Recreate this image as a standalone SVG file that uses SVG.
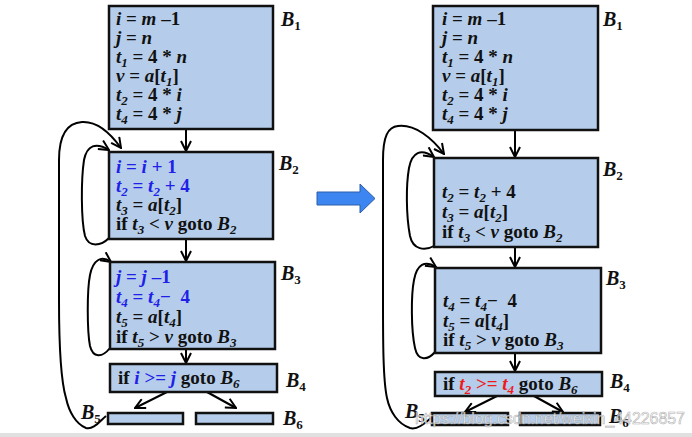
<svg xmlns="http://www.w3.org/2000/svg" width="692" height="437" viewBox="0 0 692 437">
<defs>
<marker id="ah" viewBox="0 0 12 12" refX="11" refY="6" markerWidth="12" markerHeight="12" markerUnits="userSpaceOnUse" orient="auto">
<path d="M1,1 L11,6 L1,11" fill="none" stroke="#000" stroke-width="2"/>
</marker>
<style>
.box{fill:#b5cdea;stroke:#111;stroke-width:2.5}
.c{font-family:"Liberation Serif","Times New Roman",serif;font-weight:bold;font-size:19px;fill:#111}
.v{font-style:italic}
.s{font-size:13px;font-style:italic}
.b{fill:#1f1fe8}
.r{fill:#ee1a1a}
.lb{font-family:"Liberation Serif","Times New Roman",serif;font-weight:bold;font-style:italic;font-size:20px;fill:#111}
.ls{font-size:13px;font-style:normal}
.e{fill:none;stroke:#000;stroke-width:2;marker-end:url(#ah)}
.ln{fill:none;stroke:#000;stroke-width:2}
</style>
</defs>
<rect x="0" y="0" width="692" height="437" fill="#fff"/>
<rect x="0" y="433" width="692" height="4" fill="#e0e0e0"/>

<g id="connectors">
<!-- left -->
<path class="e" d="M186,129 L186,151"/>
<path class="e" d="M186,239 L186,261"/>
<path class="e" d="M186,349 L186,363"/>
<path class="e" d="M167,392 L135,408"/>
<path class="e" d="M207,392 L236,408"/>
<path class="e" d="M106,416 C99,422 93,430 86,428 C76,424 69,412 66,398 C60,378 59,340 59,300 L59,160 C59,136 66,123 82,122 C98,121 111,134 121,148"/>
<path class="e" d="M109,238 C101,246 89,248 85,236 C81,220 81,180 84,160 C87,145 96,142 109,150"/>
<path class="e" d="M110,348 C102,358 93,358 90,346 C87,330 87,290 90,275 C93,260 101,255 111,262"/>
<!-- right -->
<path class="e" d="M515,130 L515,157"/>
<path class="e" d="M515,247 L515,267"/>
<path class="e" d="M515,353 L515,371"/>
<path class="e" d="M497,396 L465,412"/>
<path class="e" d="M534,396 L563,412"/>
<path class="e" d="M431,418 C424,424 417,430 410,428 C398,424 390,412 387,398 C383,380 383,340 383,300 L383,160 C383,136 388,127 398,126 C415,124 432,138 444,154"/>
<path class="e" d="M434,246 C425,251 413,250 410,236 C406,215 406,185 409,168 C412,152 421,148 434,157"/>
<path class="e" d="M435,352 C428,360 418,362 415,348 C411,330 411,295 414,280 C417,264 425,260 436,267"/>
</g>

<g id="transform-arrow">
<polygon points="317,192 360,192 360,184 375,198.5 360,213 360,205 317,205" fill="#3d85f0" stroke="#2d5fa8" stroke-width="1"/>
</g>

<!-- LEFT -->
<g id="L-B1">
<rect class="box" x="109" y="6" width="164" height="123"/>
<text class="c" x="116" y="25"><tspan class="v">i</tspan> = <tspan class="v">m</tspan> –1</text>
<text class="c" x="116" y="44"><tspan class="v">j</tspan> = <tspan class="v">n</tspan></text>
<text class="c" x="116" y="63"><tspan class="v">t</tspan><tspan class="s" baseline-shift="-4">1</tspan> = 4 * <tspan class="v">n</tspan></text>
<text class="c" x="116" y="82"><tspan class="v">v</tspan> = <tspan class="v">a</tspan>[<tspan class="v">t</tspan><tspan class="s" baseline-shift="-4">1</tspan>]</text>
<text class="c" x="116" y="101"><tspan class="v">t</tspan><tspan class="s" baseline-shift="-4">2</tspan> = 4 * <tspan class="v">i</tspan></text>
<text class="c" x="116" y="120"><tspan class="v">t</tspan><tspan class="s" baseline-shift="-4">4</tspan> = 4 * <tspan class="v">j</tspan></text>
<text class="lb" x="281" y="26">B<tspan class="ls" baseline-shift="-4">1</tspan></text>
</g>

<g id="L-B2">
<rect class="box" x="109" y="152" width="164" height="87"/>
<text class="c b" x="116" y="173"><tspan class="v">i</tspan> = <tspan class="v">i</tspan> + 1</text>
<text class="c b" x="116" y="192"><tspan class="v">t</tspan><tspan class="s" baseline-shift="-4">2</tspan> = <tspan class="v">t</tspan><tspan class="s" baseline-shift="-4">2</tspan> + 4</text>
<text class="c" x="116" y="211"><tspan class="v">t</tspan><tspan class="s" baseline-shift="-4">3</tspan> = <tspan class="v">a</tspan>[<tspan class="v">t</tspan><tspan class="s" baseline-shift="-4">2</tspan>]</text>
<text class="c" x="116" y="230">if <tspan class="v">t</tspan><tspan class="s" baseline-shift="-4">3</tspan> &lt; <tspan class="v">v</tspan> goto <tspan class="v">B</tspan><tspan class="s" baseline-shift="-4">2</tspan></text>
<text class="lb" x="279" y="170">B<tspan class="ls" baseline-shift="-4">2</tspan></text>
</g>

<g id="L-B3">
<rect class="box" x="110" y="262" width="165" height="87"/>
<text class="c b" x="116" y="283"><tspan class="v">j</tspan> = <tspan class="v">j</tspan> –1</text>
<text class="c b" x="116" y="303"><tspan class="v">t</tspan><tspan class="s" baseline-shift="-4">4</tspan> = <tspan class="v">t</tspan><tspan class="s" baseline-shift="-4">4</tspan>− <tspan dx="5">4</tspan></text>
<text class="c" x="116" y="323"><tspan class="v">t</tspan><tspan class="s" baseline-shift="-4">5</tspan> = <tspan class="v">a</tspan>[<tspan class="v">t</tspan><tspan class="s" baseline-shift="-4">4</tspan>]</text>
<text class="c" x="116" y="343">if <tspan class="v">t</tspan><tspan class="s" baseline-shift="-4">5</tspan> &gt; <tspan class="v">v</tspan> goto <tspan class="v">B</tspan><tspan class="s" baseline-shift="-4">3</tspan></text>
<text class="lb" x="281" y="280">B<tspan class="ls" baseline-shift="-4">3</tspan></text>
</g>

<g id="L-B4">
<rect class="box" x="110" y="364" width="167" height="28"/>
<text class="c" x="118" y="384">if <tspan class="b v">i</tspan><tspan class="b"> &gt;= </tspan><tspan class="b v">j</tspan> goto <tspan class="v">B</tspan><tspan class="s" baseline-shift="-4">6</tspan></text>
<text class="lb" x="286" y="387">B<tspan class="ls" baseline-shift="-4">4</tspan></text>
</g>

<g id="L-B5">
<rect class="box" x="108" y="413" width="75" height="11"/>
<text class="lb" x="81" y="419">B<tspan class="ls" baseline-shift="-4">5</tspan></text>
</g>

<g id="L-B6">
<rect class="box" x="196" y="413" width="77" height="11"/>
<text class="lb" x="283" y="425">B<tspan class="ls" baseline-shift="-4">6</tspan></text>
</g>

<!-- RIGHT -->
<g id="R-B1">
<rect class="box" x="433" y="6" width="165" height="124"/>
<text class="c" x="442" y="25"><tspan class="v">i</tspan> = <tspan class="v">m</tspan> –1</text>
<text class="c" x="442" y="44"><tspan class="v">j</tspan> = <tspan class="v">n</tspan></text>
<text class="c" x="442" y="63"><tspan class="v">t</tspan><tspan class="s" baseline-shift="-4">1</tspan> = 4 * <tspan class="v">n</tspan></text>
<text class="c" x="442" y="82"><tspan class="v">v</tspan> = <tspan class="v">a</tspan>[<tspan class="v">t</tspan><tspan class="s" baseline-shift="-4">1</tspan>]</text>
<text class="c" x="442" y="101"><tspan class="v">t</tspan><tspan class="s" baseline-shift="-4">2</tspan> = 4 * <tspan class="v">i</tspan></text>
<text class="c" x="442" y="120"><tspan class="v">t</tspan><tspan class="s" baseline-shift="-4">4</tspan> = 4 * <tspan class="v">j</tspan></text>
<text class="lb" x="603" y="26">B<tspan class="ls" baseline-shift="-4">1</tspan></text>
</g>

<g id="R-B2">
<rect class="box" x="434" y="158" width="164" height="89"/>
<text class="c" x="442" y="198"><tspan class="v">t</tspan><tspan class="s" baseline-shift="-4">2</tspan> = <tspan class="v">t</tspan><tspan class="s" baseline-shift="-4">2</tspan> + 4</text>
<text class="c" x="442" y="218"><tspan class="v">t</tspan><tspan class="s" baseline-shift="-4">3</tspan> = <tspan class="v">a</tspan>[<tspan class="v">t</tspan><tspan class="s" baseline-shift="-4">2</tspan>]</text>
<text class="c" x="442" y="238">if <tspan class="v">t</tspan><tspan class="s" baseline-shift="-4">3</tspan> &lt; <tspan class="v">v</tspan> goto <tspan class="v">B</tspan><tspan class="s" baseline-shift="-4">2</tspan></text>
<text class="lb" x="603" y="176">B<tspan class="ls" baseline-shift="-4">2</tspan></text>
</g>

<g id="R-B3">
<rect class="box" x="435" y="268" width="166" height="85"/>
<text class="c" x="443" y="307"><tspan class="v">t</tspan><tspan class="s" baseline-shift="-4">4</tspan> = <tspan class="v">t</tspan><tspan class="s" baseline-shift="-4">4</tspan>− <tspan dx="5">4</tspan></text>
<text class="c" x="443" y="327"><tspan class="v">t</tspan><tspan class="s" baseline-shift="-4">5</tspan> = <tspan class="v">a</tspan>[<tspan class="v">t</tspan><tspan class="s" baseline-shift="-4">4</tspan>]</text>
<text class="c" x="443" y="346">if <tspan class="v">t</tspan><tspan class="s" baseline-shift="-4">5</tspan> &gt; <tspan class="v">v</tspan> goto <tspan class="v">B</tspan><tspan class="s" baseline-shift="-4">3</tspan></text>
<text class="lb" x="606" y="285">B<tspan class="ls" baseline-shift="-4">3</tspan></text>
</g>

<g id="R-B4">
<rect class="box" x="435" y="372" width="167" height="24"/>
<text class="c" x="443" y="390">if <tspan class="r v">t</tspan><tspan class="r s" baseline-shift="-4">2</tspan><tspan class="r"> &gt;= </tspan><tspan class="r v">t</tspan><tspan class="r s" baseline-shift="-4">4</tspan> goto <tspan class="v">B</tspan><tspan class="s" baseline-shift="-4">6</tspan></text>
<text class="lb" x="610" y="388">B<tspan class="ls" baseline-shift="-4">4</tspan></text>
</g>

<g id="R-B5">
<rect class="box" x="432" y="413" width="76" height="12"/>
<text class="lb" x="405" y="418">B<tspan class="ls" baseline-shift="-4">5</tspan></text>
</g>

<g id="R-B6">
<rect class="box" x="520" y="413" width="80" height="12"/>
<text class="lb" x="609" y="423">B<tspan class="ls" baseline-shift="-4">6</tspan></text>
</g>

<text x="415" y="424" font-family="Liberation Sans, Arial, sans-serif" font-size="16" textLength="270" fill="#ffffff" fill-opacity="0.8" stroke="#9a9a9a" stroke-width="0.6" stroke-opacity="0.8">https://blog.csdn.net/weixin_44226857</text>
</svg>
